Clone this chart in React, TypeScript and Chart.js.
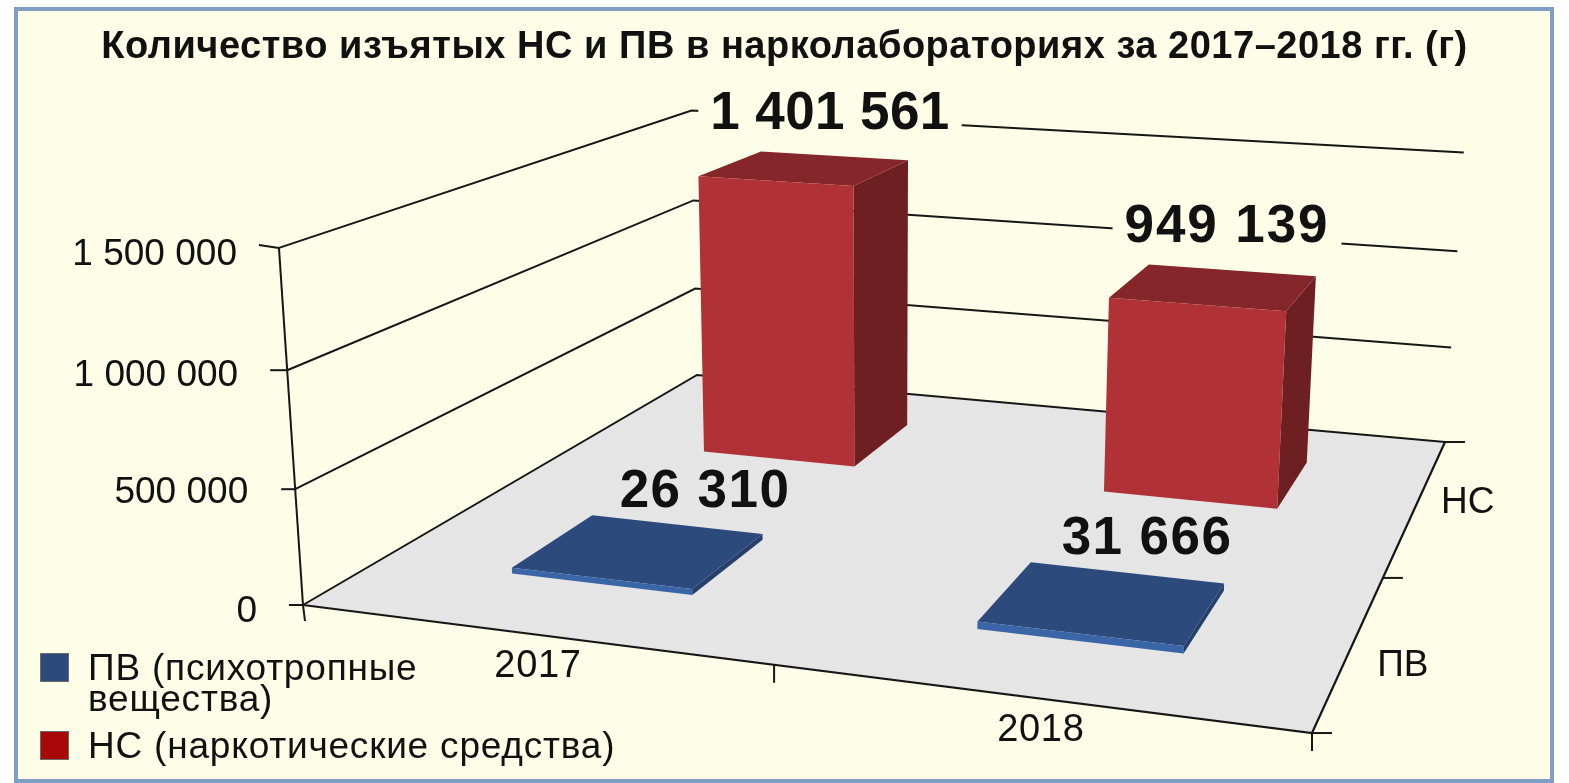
import React, { useEffect, useRef } from "react";
import { Chart, registerables } from "chart.js";

Chart.register(...registerables);

// ---- data ----
const TITLE = "Количество изъятых НС и ПВ в нарколабораториях за 2017–2018 гг. (г)";
const YEARS = ["2017", "2018"];
const SERIES_SHORT = ["ПВ", "НС"];
const PV_VALUES = [26310, 31666];
const NS_VALUES = [1401561, 949139];
const VALUE_TICKS = [0, 500000, 1000000, 1500000];
const LEGEND_PV = ["ПВ (психотропные", "вещества)"];
const LEGEND_NS = ["НС (наркотические средства)"];

// ---- layout / style ----
const W = 1569;
const H = 783;
const TITLE_BOX = 68;
const AXIS_MAX = 1500000;
const FONT = '"Liberation Sans", Arial, sans-serif';
const INK = "#111111";
const CREAM = "#FEFDE8";
const LINE = "#161616";
const PV_U = [
  [0.15, 0.351],
  [0.65, 0.853],
];
const NS_U = [
  [0.157, 0.35],
  [0.654, 0.854],
];
const SERIES_V = {
  pv: [0.157, 0.35],
  ns: [0.65, 0.85],
};
const PV_COL = { front: "#3A66A8", side: "#263F6B", top: "#2C4A7C" };
const NS_COL = { front: "#B03136", side: "#6E1F21", top: "#84262A" };
const LABEL_AT: Record<string, number[][]> = {
  pv: [[705, 507], [1147, 554]],
  ns: [[830, 129], [1227, 242]],
};
const LABEL_SPACING: Record<string, number[]> = {
  pv: [1.4, 1.4],
  ns: [0.4, 1.9],
};

// Perspective camera: unit cube (u along years, v along series, w along values) to page pixels.
function project(u: number, v: number, w: number) {
  const d = -0.1242 * u + 0.371 * v - 0.04 * w + 1;
  return {
    x: (846.05 * u + 652.6 * v - 35.2 * w + 303) / d,
    y: (37.0 * u - 90.9 * v - 367 * w + 605) / d,
  };
}
const toW = (value: number) => value / AXIS_MAX;

type Pt = { x: number; y: number };
const datasets: any[] = [];
function poly(pts: Pt[], color: string, label: string) {
  datasets.push({
    label,
    data: [...pts, pts[0]],
    showLine: true,
    fill: "shape",
    backgroundColor: color,
    borderWidth: 0,
    pointRadius: 0,
    tension: 0,
  });
}
function line(pts: Pt[], label: string, width = 2) {
  datasets.push({
    label,
    data: pts,
    showLine: true,
    fill: false,
    borderColor: LINE,
    borderWidth: width,
    pointRadius: 0,
    tension: 0,
  });
}
function bar(uR: number[], vR: number[], value: number, col: typeof PV_COL, label: string) {
  const w = toW(value);
  const [u0, u1] = uR;
  const [v0, v1] = vR;
  poly([project(u1, v0, 0), project(u1, v1, 0), project(u1, v1, w), project(u1, v0, w)], col.side, label + " side");
  poly([project(u0, v0, w), project(u1, v0, w), project(u1, v1, w), project(u0, v1, w)], col.top, label + " top");
  poly([project(u0, v0, 0), project(u1, v0, 0), project(u1, v0, w), project(u0, v0, w)], col.front, label);
}
const shift = (p: Pt, dx: number, dy: number) => ({ x: p.x + dx, y: p.y + dy });

// floor
poly([project(0, 0, 0), project(1, 0, 0), project(1, 1, 0), project(0, 1, 0)], "#E5E5E5", "floor");
// walls: grid lines at each value tick
VALUE_TICKS.forEach((t) => {
  const w = toW(t);
  line([project(0, 0, w), project(0, 1, w), project(1, 1, w)], "grid " + t);
});
// value axis with tick marks
line([project(0, 0, 0), project(0, 0, 1)], "value axis");
const VALUE_TICK_LEN = [-14, -14, -17, -20];
VALUE_TICKS.forEach((t, i) => {
  const p = project(0, 0, toW(t));
  line([p, shift(p, VALUE_TICK_LEN[i], i === 3 ? -3 : 0)], "value tick " + t);
});
// floor edges and their tick marks
line([project(0, 0, 0), project(1, 0, 0), project(1, 1, 0)], "floor edge", 2.2);
[0, 0.5, 1].forEach((u) => {
  const p = project(u, 0, 0);
  line([p, shift(p, u === 0 ? 2 : 0, u === 1 ? 18 : u === 0 ? 16 : 18)], "year tick " + u);
});
[0, 0.445, 1].forEach((v) => {
  const p = project(1, v, 0);
  line([p, shift(p, 20, 0)], "series tick " + v);
});
// bars
NS_VALUES.forEach((val, i) => bar(NS_U[i], SERIES_V.ns, val, NS_COL, "НС " + YEARS[i]));
PV_VALUES.forEach((val, i) => bar(PV_U[i], SERIES_V.pv, val, PV_COL, "ПВ " + YEARS[i]));
datasets.forEach((d, i) => (d.order = datasets.length - i));

const fmt = (n: number) => String(n).replace(/\B(?=(\d{3})+(?!\d))/g, " ");

const VALUE_LABEL_DX = [-46, -47, -49, -42];
const VALUE_LABEL_DY = [17, 14, 16, 17];
const SERIES_LABEL_POS = [[0.25, 48, 37], [0.75, 48, 16]];

const textPlugin = {
  id: "textPlugin",
  beforeDraw(chart: any) {
    chart.ctx.letterSpacing = "0.52px"; // title is drawn between this hook and the datasets
  },
  beforeDatasetsDraw(chart: any) {
    chart.ctx.letterSpacing = "0px";
  },
  afterDatasetsDraw(chart: any) {
    const ctx = chart.ctx;
    ctx.save();
    ctx.fillStyle = INK;
    ctx.textBaseline = "alphabetic";

    // value-axis labels
    ctx.font = `37px ${FONT}`;
    ctx.textAlign = "right";
    VALUE_TICKS.forEach((t, i) => {
      const p = project(0, 0, toW(t));
      ctx.fillText(fmt(t), p.x + VALUE_LABEL_DX[i], p.y + VALUE_LABEL_DY[i]);
    });

    // category and series labels
    ctx.textAlign = "center";
    ctx.font = `38px ${FONT}`;
    ctx.letterSpacing = "0.7px";
    YEARS.forEach((y, i) => {
      const p = project(i === 0 ? 0.25 : 0.75, 0, 0);
      ctx.fillText(y, p.x + 7, p.y + 43);
    });
    ctx.letterSpacing = "0px";
    ctx.font = `37px ${FONT}`;
    SERIES_SHORT.forEach((s, i) => {
      const [v, dx, dy] = SERIES_LABEL_POS[i];
      const p = project(1, v, 0);
      ctx.fillText(s, p.x + dx, p.y + dy);
    });

    // value labels
    ctx.font = `bold 53px ${FONT}`;
    ctx.textAlign = "center";
    NS_VALUES.forEach((val, i) => {
      const [x, y] = LABEL_AT.ns[i];
      ctx.letterSpacing = LABEL_SPACING.ns[i] + "px";
      const tw = ctx.measureText(fmt(val)).width;
      ctx.fillStyle = CREAM;
      ctx.fillRect(x - tw / 2 - 12, y - 40, tw + 24, 46);
      ctx.fillStyle = INK;
      ctx.fillText(fmt(val), x, y);
    });
    PV_VALUES.forEach((val, i) => {
      const [x, y] = LABEL_AT.pv[i];
      ctx.letterSpacing = LABEL_SPACING.pv[i] + "px";
      ctx.fillText(fmt(val), x, y);
    });
    ctx.letterSpacing = "0px";

    // legend
    ctx.textAlign = "left";
    ctx.font = `37px ${FONT}`;
    const swatch = (y: number, c: string) => {
      ctx.fillStyle = c;
      ctx.fillRect(40.5, y + 0.5, 28, 28);
      ctx.strokeStyle = "#6b6b6b";
      ctx.lineWidth = 1;
      ctx.strokeRect(40.5, y + 0.5, 28, 28);
    };
    swatch(653, "#2C4A7C");
    swatch(731, "#A80808");
    ctx.fillStyle = INK;
    ctx.letterSpacing = "0.8px";
    LEGEND_PV.forEach((t, i) => ctx.fillText(t, 88, 680 + i * 31));
    LEGEND_NS.forEach((t) => ctx.fillText(t, 88, 758));
    ctx.letterSpacing = "0px";
    ctx.restore();
  },
};

export default function App() {
  const ref = useRef<HTMLCanvasElement>(null);
  useEffect(() => {
    const chart = new Chart(ref.current as HTMLCanvasElement, {
      type: "scatter",
      data: { datasets },
      options: {
        animation: false,
        responsive: false,
        devicePixelRatio: 1,
        layout: { padding: 0 },
        scales: {
          x: { type: "linear", display: false, min: 0, max: W },
          y: { type: "linear", display: false, min: TITLE_BOX, max: H, reverse: true },
        },
        plugins: {
          legend: { display: false },
          tooltip: { enabled: false },
          filler: { drawTime: "beforeDatasetDraw", propagate: false },
          title: {
            display: true,
            text: TITLE,
            color: INK,
            align: "center",
            padding: { top: 28, bottom: 0 },
            font: { family: FONT, size: 38, weight: "bold", lineHeight: "40px" },
          },
        },
      } as any,
      plugins: [textPlugin],
    });
    return () => chart.destroy();
  }, []);
  return (
    <div style={{ position: "fixed", left: 0, top: 0, width: W, height: H, background: "#fff", overflow: "hidden" }}>
      <div
        style={{
          position: "absolute",
          left: 14,
          top: 7,
          width: 1540,
          height: 776,
          boxSizing: "border-box",
          border: "4px solid #7F9FC4",
          background: CREAM,
        }}
      />
      <canvas ref={ref} width={W} height={H} style={{ position: "absolute", left: 0, top: 0, display: "block" }} />
    </div>
  );
}
